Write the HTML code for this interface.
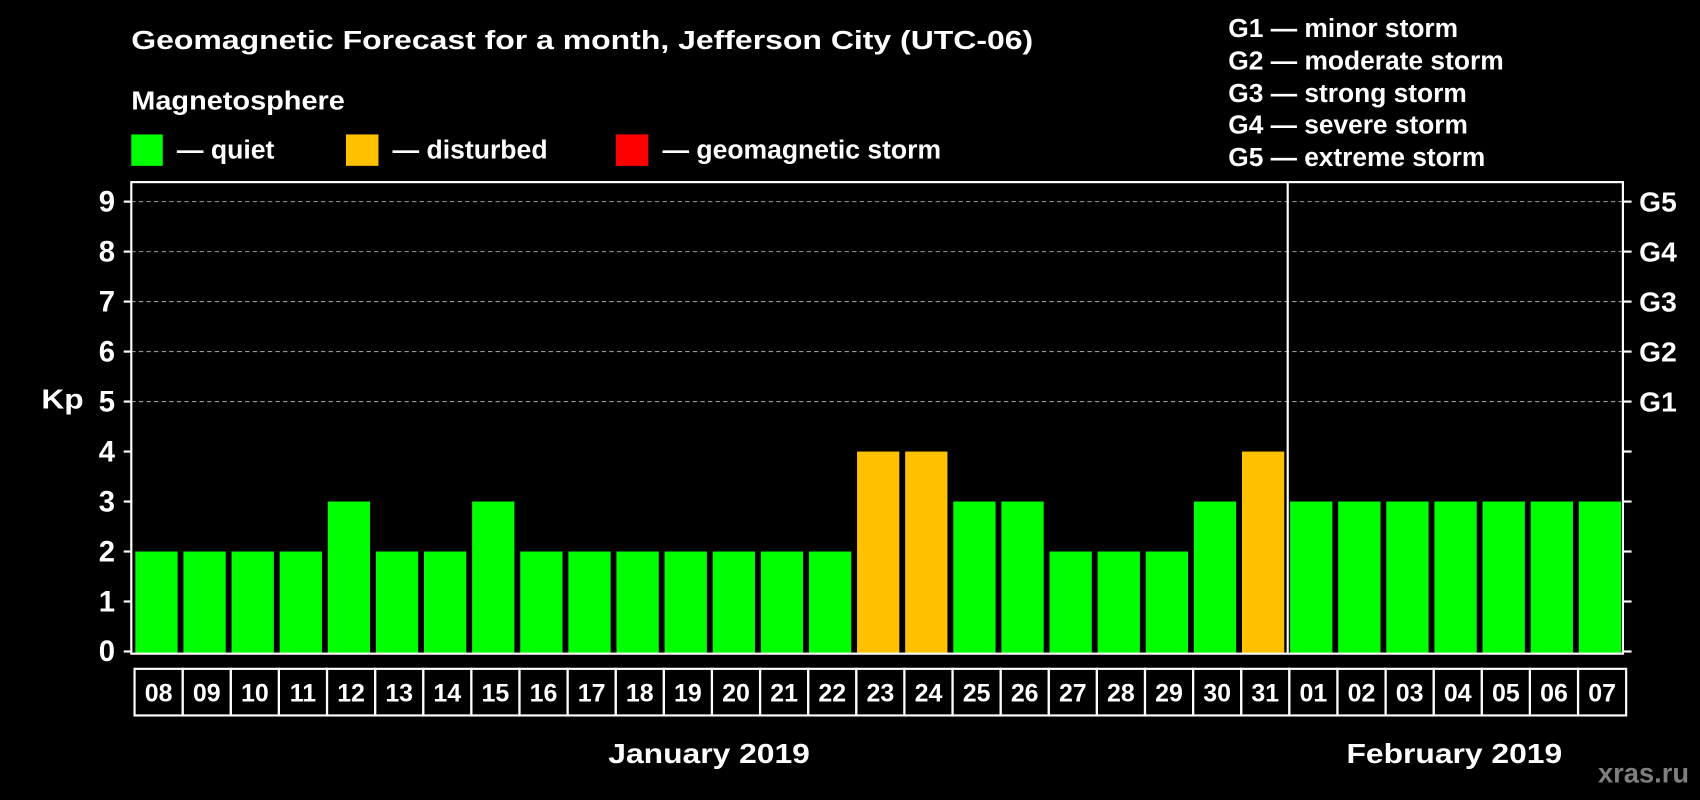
<!DOCTYPE html>
<html><head><meta charset="utf-8"><style>
html,body{margin:0;padding:0;background:#000;}
svg{display:block;font-family:"Liberation Sans",Arial,sans-serif;font-weight:bold;}
</style></head><body>
<svg id="chart" width="1700" height="800" viewBox="0 0 1568 738" xmlns="http://www.w3.org/2000/svg">
<rect x="0" y="0" width="1568" height="738" fill="#000"/>
<text x="121" y="45" fill="#fff" font-size="24" textLength="832" lengthAdjust="spacingAndGlyphs">Geomagnetic Forecast for a month, Jefferson City (UTC-06)</text>
<text x="121" y="101" fill="#fff" font-size="24" textLength="197" lengthAdjust="spacingAndGlyphs">Magnetosphere</text>
<g><rect x="121" y="124" width="29" height="29" fill="#00ff00"/><text x="163" y="146" fill="#fff" font-size="24" textLength="90" lengthAdjust="spacingAndGlyphs">— quiet</text></g>
<g><rect x="319" y="124" width="30" height="29" fill="#ffc000"/><text x="362" y="146" fill="#fff" font-size="24" textLength="143" lengthAdjust="spacingAndGlyphs">— disturbed</text></g>
<g><rect x="568" y="124" width="30" height="29" fill="#ff0000"/><text x="611" y="146" fill="#fff" font-size="24" textLength="257" lengthAdjust="spacingAndGlyphs">— geomagnetic storm</text></g>
<g fill="#fff" font-size="24">
<text x="1133" y="34" textLength="212" lengthAdjust="spacingAndGlyphs">G1 — minor storm</text>
<text x="1133" y="64" textLength="254" lengthAdjust="spacingAndGlyphs">G2 — moderate storm</text>
<text x="1133" y="94" textLength="220" lengthAdjust="spacingAndGlyphs">G3 — strong storm</text>
<text x="1133" y="123" textLength="221" lengthAdjust="spacingAndGlyphs">G4 — severe storm</text>
<text x="1133" y="153" textLength="237" lengthAdjust="spacingAndGlyphs">G5 — extreme storm</text>
</g>
<text x="38" y="377" fill="#fff" font-size="26" textLength="39" lengthAdjust="spacingAndGlyphs">Kp</text>
<g id="grid"></g>
<g id="bars"></g>
<g id="axes"></g>
<text x="561" y="704" fill="#fff" font-size="26" textLength="186" lengthAdjust="spacingAndGlyphs">January 2019</text>
<text x="1242" y="704" fill="#fff" font-size="26" textLength="199" lengthAdjust="spacingAndGlyphs">February 2019</text>
<text x="1474" y="722" fill="#7f7f7f" font-size="26" textLength="84" lengthAdjust="spacingAndGlyphs">xras.ru</text>
</svg>
<script>
const days = ["08","09","10","11","12","13","14","15","16","17","18","19","20","21","22","23","24","25","26","27","28","29","30","31","01","02","03","04","05","06","07"];
const kpValues = [2,2,2,2,3,2,2,3,2,2,2,2,2,2,2,4,4,3,3,2,2,2,3,4,3,3,3,3,3,3,3];
const yTicks = [0,1,2,3,4,5,6,7,8,9];
const gLabels = ["","","","","","G1","G2","G3","G4","G5"];
const monthSplitIndex = 24;

const NS = "http://www.w3.org/2000/svg";
const L = 121, R = 1497, T = 168, B = 603;
const y0 = 601, y9 = 186;
const pitch = (R - L) / days.length;
const barW = 39;
function yScale(v){ return y0 - (y0 - y9) * v / 9; }
function xScale(i){ return L + pitch * i; }
function color(v){ return v >= 5 ? "#ff0000" : (v >= 4 ? "#ffc000" : "#00ff00"); }
function mk(tag, attrs, parent){ const e = document.createElementNS(NS, tag); for (const k in attrs) e.setAttribute(k, attrs[k]); parent.appendChild(e); return e; }

const grid = document.getElementById("grid"), bars = document.getElementById("bars"), axes = document.getElementById("axes");
yTicks.forEach(t => {
  const y = yScale(t);
  if (t >= 5) {
    const g = mk("line", {x1:L, x2:R, y1:y, y2:y, stroke:"#999", "stroke-width":1, "stroke-dasharray":"4,3"}, grid);
    
    
  }
  const tl = mk("line", {x1:L-7, x2:L, y1:y, y2:y, stroke:"#fff", "stroke-width":2}, axes);
  
  
  const tr = mk("line", {x1:R, x2:R+8, y1:y, y2:y, stroke:"#fff", "stroke-width":2}, axes);
  
  
  const lab = mk("text", {x:106, y:y+9, fill:"#fff", "font-size":27, "text-anchor":"end"}, axes);
  lab.textContent = t;
  
  
  if (gLabels[t]) {
    const gl = mk("text", {x:1512, y:y+9, fill:"#fff", "font-size":26}, axes);
    gl.textContent = gLabels[t];
    
    
  }
});
kpValues.forEach((v, i) => {
  const x = xScale(i) + (pitch - barW) / 2 + 1;
  const b = mk("rect", {x:x, y:yScale(v), width:barW, height:B - yScale(v), fill:color(v)}, bars);
  
  
  const cell = mk("rect", {x:xScale(i)+3, y:617, width:pitch, height:43, fill:"none", stroke:"#fff", "stroke-width":2}, axes);
  
  
  const t = mk("text", {x:xScale(i)+3+pitch/2, y:647, fill:"#fff", "font-size":23, "text-anchor":"middle"}, axes);
  t.textContent = days[i];
  
  
});
const frame = mk("rect", {x:L, y:T, width:R-L, height:B-T, fill:"none", stroke:"#fff", "stroke-width":2}, axes);


const sx = xScale(monthSplitIndex) + 1.5;
const split = mk("line", {x1:sx, x2:sx, y1:T, y2:B, stroke:"#fff", "stroke-width":2}, axes);


</script>
</body></html>
